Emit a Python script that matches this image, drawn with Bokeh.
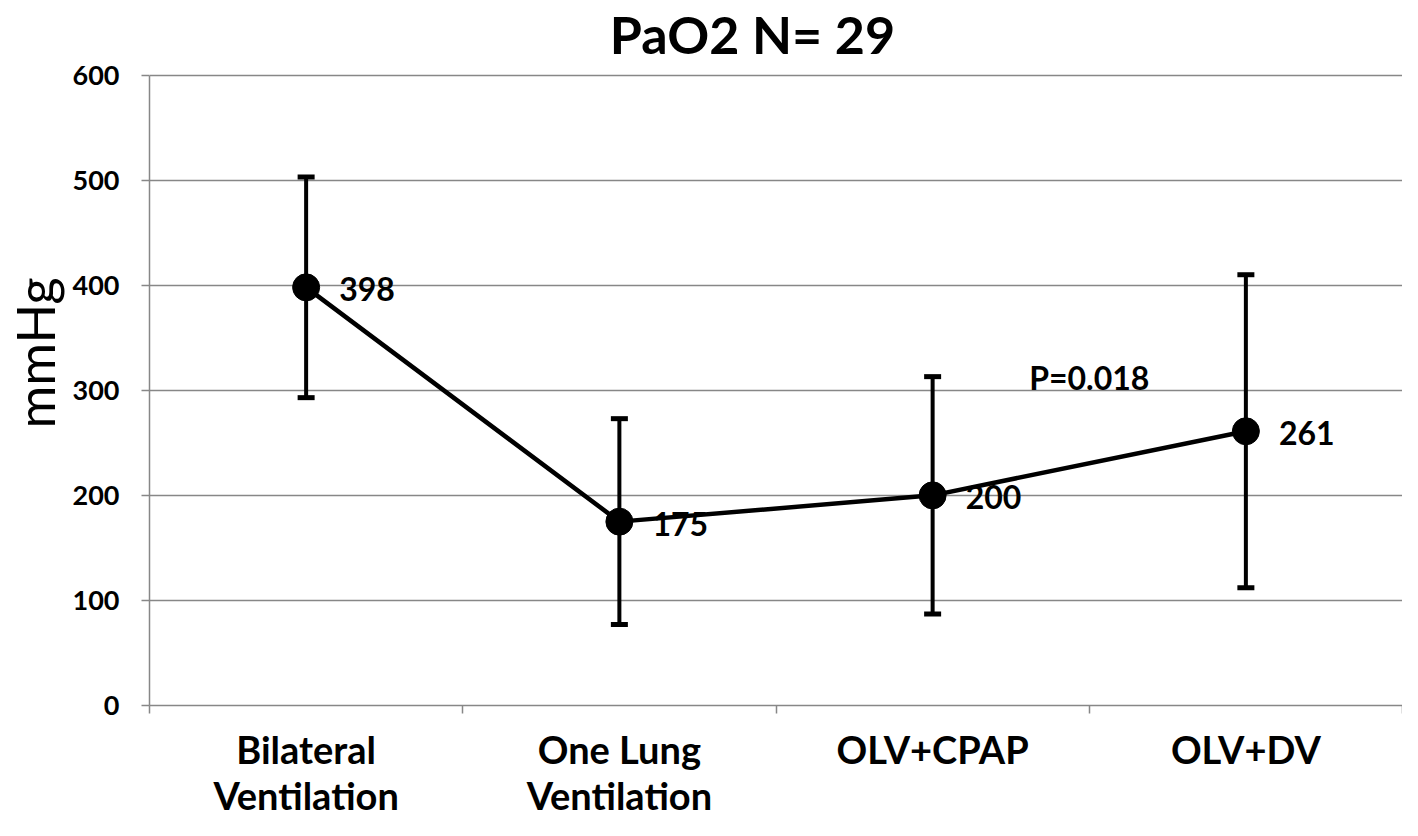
from bokeh.plotting import figure
from bokeh.models import (ColumnDataSource, FactorRange, Range1d, LinearAxis, FixedTicker,
                          Whisker, TeeHead, Label)
from bokeh.core.properties import value
from bokeh.embed import file_html
from bokeh.resources import INLINE

# ---- data ----
categories = ["Bilateral\nVentilation", "One Lung\nVentilation", "OLV+CPAP", "OLV+DV"]
means = [398, 175, 200, 261]
sds = [105, 98, 113, 149]
y_ticks = [0, 100, 200, 300, 400, 500, 600]
title_text = "PaO2 N= 29"
y_label = "mmHg"
p_text = "P=0.018"

FONT = "Lato"
GRAY = "#878787"

src = ColumnDataSource(dict(
    x=categories,
    y=means,
    upper=[m + s for m, s in zip(means, sds)],
    lower=[m - s for m, s in zip(means, sds)],
    lbl=[str(m) for m in means],
))

# the frame runs to the top of the canvas; headroom above 600 holds the title
p = figure(width=1402, height=820, x_range=FactorRange(*categories), y_range=Range1d(0, 671),
           output_backend="svg", toolbar_location=None, x_axis_location=None,
           min_border_left=148, min_border_right=0, min_border_top=0, min_border_bottom=10)
p.outline_line_color = None
p.background_fill_color = "white"
p.border_fill_color = "white"
p.xgrid.visible = False

# y axis
ya = p.yaxis[0]
ya.ticker = FixedTicker(ticks=y_ticks)
ya.bounds = (y_ticks[0], y_ticks[-1])
ya.axis_line_color = GRAY
ya.axis_line_width = 1.5
ya.major_tick_line_color = GRAY
ya.major_tick_line_width = 1.5
ya.major_tick_out = 8
ya.major_tick_in = 0
ya.minor_tick_line_color = None
ya.major_label_standoff = 22
ya.major_label_text_font = FONT
ya.major_label_text_font_style = "bold"
ya.major_label_text_font_size = "27px"
ya.major_label_text_color = "black"
ya.axis_label = y_label
ya.axis_label_text_font = FONT
ya.axis_label_text_font_style = "normal"
ya.axis_label_text_font_size = "52px"
ya.axis_label_text_color = "black"
ya.axis_label_standoff = 4

p.ygrid.ticker = FixedTicker(ticks=y_ticks)
p.ygrid.grid_line_color = GRAY
p.ygrid.grid_line_width = 1.5

# x axis: labels at category centres, tick marks at category boundaries
n = len(categories)
centers = [i + 0.5 for i in range(n)]
bounds = [float(i) for i in range(n + 1)]
xa = LinearAxis(ticker=FixedTicker(ticks=centers, minor_ticks=bounds))
xa.major_label_overrides = {c: cat for c, cat in zip(centers, categories)}
xa.axis_line_color = GRAY
xa.axis_line_width = 1.5
xa.major_tick_line_color = None
xa.major_tick_out = 8
xa.major_tick_in = 0
xa.minor_tick_line_color = GRAY
xa.minor_tick_line_width = 1.5
xa.minor_tick_out = 8
xa.minor_tick_in = 0
xa.major_label_standoff = 12
xa.major_label_text_font = FONT
xa.major_label_text_font_style = "bold"
xa.major_label_text_font_size = "38px"
xa.major_label_text_color = "black"
xa.major_label_text_line_height = 1.0
p.add_layout(xa, "below")

# error bars
wh = Whisker(source=src, base="x", upper="upper", lower="lower", dimension="height",
             line_color="black", line_width=4,
             upper_head=TeeHead(size=17, line_width=5, line_color="black"),
             lower_head=TeeHead(size=17, line_width=5, line_color="black"))
p.add_layout(wh)

# line + points
p.line(x="x", y="y", source=src, line_color="black", line_width=4.5)
p.scatter(x="x", y="y", source=src, size=27, color="black")

# data labels
p.text(x="x", y="y", text="lbl", source=src, x_offset=33, y_offset=2,
       text_baseline="middle", text_align="left",
       text_font=value(FONT), text_font_style="bold", text_font_size="32px",
       text_color="black")

# p-value annotation (between OLV+CPAP and OLV+DV)
p.add_layout(Label(x=3.0, y=312, text=p_text, text_align="center", text_baseline="middle",
                   text_font=FONT, text_font_style="bold", text_font_size="32px",
                   text_color="black"))

# chart title, above the 600 gridline
p.add_layout(Label(x=603, x_units="screen", y=y_ticks[-1], y_offset=41, text=title_text,
                   text_align="center", text_baseline="alphabetic",
                   text_font=FONT, text_font_style="bold", text_font_size="52px",
                   text_color="black"))

open("out.html", "w").write(file_html(p, INLINE))
